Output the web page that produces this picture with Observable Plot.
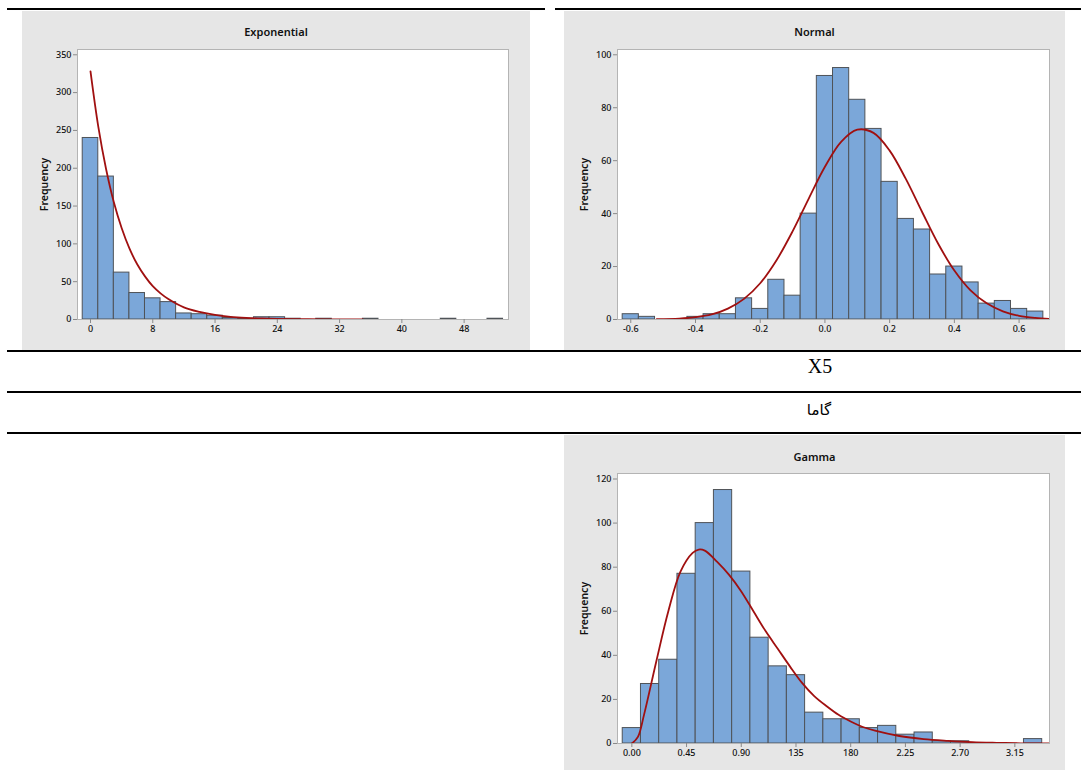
<!DOCTYPE html>
<html>
<head>
<meta charset="utf-8">
<script src="https://cdn.jsdelivr.net/npm/d3@7"></script>
<script src="https://cdn.jsdelivr.net/npm/@observablehq/plot@0.6"></script>
<style>
  html, body { margin: 0; padding: 0; background: #ffffff; }
  body { width: 1081px; height: 770px; position: relative; overflow: hidden; font-family: "Noto Sans", sans-serif; }
  .rule { position: absolute; height: 2px; background: #000; }
  .panel { position: absolute; }
  .panel svg { display: block; }
  .cell-text { position: absolute; transform: translate(-50%, -50%); color: #000; white-space: nowrap; }
</style>
</head>
<body>
<div class="rule" style="left:7px; top:8px; width:538px;"></div>
<div class="rule" style="left:555px; top:8px; width:526px;"></div>
<div class="rule" style="left:7px; top:350px; width:1074px;"></div>
<div class="rule" style="left:7px; top:391px; width:1074px;"></div>
<div class="rule" style="left:7px; top:432px; width:1074px;"></div>
<div class="cell-text" style="left:820px; top:366px; font-family:'Liberation Serif','Times New Roman',serif; font-size:20px;">X5</div>
<div class="cell-text" dir="rtl" style="left:819px; top:410px; font-family:'DejaVu Sans',sans-serif; font-size:15px;">گاما</div>

<div class="panel" id="exp" style="left:22px; top:11px;"></div>
<div class="panel" id="norm" style="left:564px; top:11px;"></div>
<div class="panel" id="gamma" style="left:564px; top:435px;"></div>

<script>
// ---------- Exponential ----------
const expBins = [0,2,4,6,8,10,12,14,16,18,20,22,24,26,28,30,32,34,36,38,40,42,44,46,48,50,52];
const expCounts = [240,189,62,35,28,23,8,7,5,2,1,3,3,1,0,1,0,0,1,0,0,0,0,1,0,0,1];
const expCurveX = [0,1,2,3,4,5,6,7,8,9,10,12,14,16,18,20,22,24,27,30,35];
const expCurveY = [328,255,199,155,121,94,73,57,44,34.5,27,16,10,6,3.6,2.2,1.3,0.8,0.4,0.2,0.05];
const expXTicks = [0,8,16,24,32,40,48];
const expXLabels = ["0","8","16","24","32","40","48"];
const expYTicks = [0,50,100,150,200,250,300,350];

// ---------- Normal ----------
const normBins = [-0.60,-0.55,-0.50,-0.45,-0.40,-0.35,-0.30,-0.25,-0.20,-0.15,-0.10,-0.05,0.00,0.05,0.10,0.15,0.20,0.25,0.30,0.35,0.40,0.45,0.50,0.55,0.60,0.65];
const normCounts = [2,1,0,0,1,2,2,8,4,15,9,40,92,95,83,72,52,38,34,17,20,14,6,7,4,3];
const normCurveX = [-0.52,-0.45,-0.40,-0.35,-0.30,-0.25,-0.20,-0.15,-0.10,-0.05,0,0.05,0.10,0.15,0.20,0.25,0.30,0.35,0.40,0.45,0.50,0.55,0.60,0.65,0.694];
const normCurveY = [0.1,0.35,0.86,1.9,4.1,7.8,13.7,22.3,33.3,45.7,57.7,67.1,71.7,70.5,63.8,53.1,40.7,28.6,18.5,11,6.1,3.1,1.4,0.6,0.26];
const normXTicks = [-0.6,-0.4,-0.2,0,0.2,0.4,0.6];
const normXLabels = ["-0.6","-0.4","-0.2","0.0","0.2","0.4","0.6"];
const normYTicks = [0,20,40,60,80,100];

// ---------- Gamma ----------
const gammaBins = [0,0.15,0.30,0.45,0.60,0.75,0.90,1.05,1.20,1.35,1.50,1.65,1.80,1.95,2.10,2.25,2.40,2.55,2.70,2.85,3.00,3.15,3.30];
const gammaCounts = [7,27,38,77,100,115,78,48,35,31,14,11,11,7,8,4,5,1,1,0,0,0,2];
const gammaCurveX = [0,0.05,0.1,0.2,0.3,0.4,0.5,0.55,0.6,0.7,0.8,0.9,1.0,1.1,1.2,1.3,1.4,1.5,1.6,1.7,1.8,1.9,2.0,2.2,2.4,2.6,2.8,3.0,3.2,3.435];
const gammaCurveY = [0,3,13,37,60,78,86.5,88,87.5,82.5,76.5,69,60,51,43,35,27.5,21.5,17,13,10,7.5,5.8,3.4,2,1.2,0.6,0.3,0.1,0];
const gammaXTicks = [0,0.45,0.90,1.35,1.80,2.25,2.70,3.15];
const gammaXLabels = ["0.00","0.45","0.90","135","180","2.25","2.70","3.15"];
const gammaYTicks = [0,20,40,60,80,100,120];

function histPanel(o) {
  const bars = o.bins.map((c, i) => ({x1: c - o.binWidth / 2, x2: c + o.binWidth / 2, y: o.counts[i]}));
  const curve = o.curveX.map((x, i) => ({x, y: o.curveY[i]}));
  const base = [{y: 0, x1: o.bins[0] - o.binWidth / 2, x2: o.bins[o.bins.length - 1] + o.binWidth / 2}];
  const svg = Plot.plot({
    width: o.W, height: o.H,
    marginLeft: o.ml, marginRight: o.mr, marginTop: o.mt, marginBottom: o.mb,
    style: {background: "#e6e6e6", fontFamily: "'Noto Sans', sans-serif", fontSize: "9px", color: "#111"},
    x: {domain: o.xDomain},
    y: {domain: o.yDomain},
    marks: [
      Plot.frame({fill: "white"}),
      Plot.ruleY(base, {y: "y", x1: "x1", x2: "x2", stroke: "#555", strokeWidth: 1.2}),
      Plot.rectY(bars, {x1: "x1", x2: "x2", y: "y", fill: "#7ba7d9", stroke: "#4f5358", strokeWidth: 1}),
      Plot.line(curve, {x: "x", y: "y", stroke: "#a01010", strokeWidth: 1.8, curve: "catmull-rom", clip: true}),
      Plot.frame({stroke: "#b4b4b4"}),
      Plot.axisY({ticks: o.yTicks, tickSize: 4, tickPadding: 2, stroke: "#8a8a8a",
                  label: "Frequency", labelAnchor: "center", labelArrow: "none", labelOffset: 37}),
      Plot.axisX({ticks: o.xTicks, tickFormat: d => o.xLabels[o.xTicks.indexOf(d)],
                  tickSize: 4, tickPadding: 2, stroke: "#8a8a8a", label: null})
    ]
  });
  const s = d3.select(svg);
  s.selectAll('g[aria-label="y-axis tick label"] text, g[aria-label="x-axis tick label"] text')
    .style("font-weight", "500");
  s.selectAll('g[aria-label="y-axis label"] text')
    .style("font-size", "10.5px").style("font-weight", "600").attr("fill", "#111");
  s.append("text")
    .attr("x", o.W / 2).attr("y", o.titleY)
    .attr("text-anchor", "middle")
    .attr("font-size", "11px").attr("font-weight", "600").attr("fill", "#111")
    .text(o.title);
  document.getElementById(o.id).appendChild(svg);
}

histPanel({id: "exp", title: "Exponential", titleY: 25,
  bins: expBins, counts: expCounts, binWidth: 2, curveX: expCurveX, curveY: expCurveY,
  xDomain: [-1.67, 53.7], yDomain: [0, 357], xTicks: expXTicks, xLabels: expXLabels, yTicks: expYTicks,
  W: 508, H: 339, ml: 55, mr: 22, mt: 38, mb: 31});

histPanel({id: "norm", title: "Normal", titleY: 25,
  bins: normBins, counts: normCounts, binWidth: 0.05, curveX: normCurveX, curveY: normCurveY,
  xDomain: [-0.641, 0.694], yDomain: [0, 102], xTicks: normXTicks, xLabels: normXLabels, yTicks: normYTicks,
  W: 501, H: 339, ml: 53, mr: 16, mt: 38, mb: 31});

histPanel({id: "gamma", title: "Gamma", titleY: 26,
  bins: gammaBins, counts: gammaCounts, binWidth: 0.15, curveX: gammaCurveX, curveY: gammaCurveY,
  xDomain: [-0.118, 3.435], yDomain: [0, 122.5], xTicks: gammaXTicks, xLabels: gammaXLabels, yTicks: gammaYTicks,
  W: 501, H: 335, ml: 53, mr: 16, mt: 38, mb: 27});
</script>
</body>
</html>
